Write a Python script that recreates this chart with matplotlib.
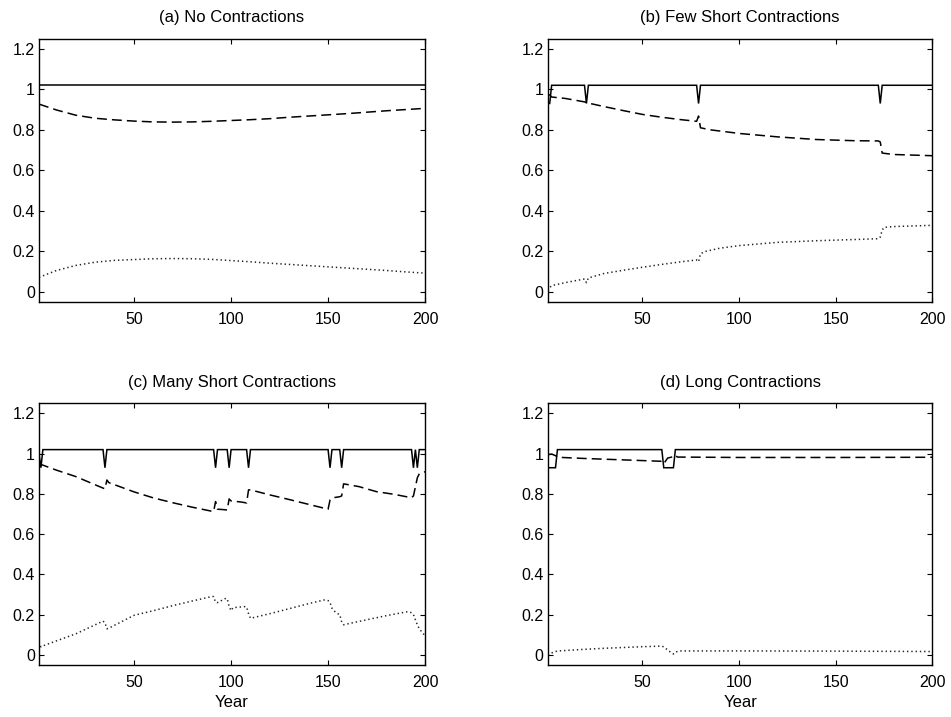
import matplotlib
matplotlib.use("Agg")
import matplotlib.pyplot as plt

plt.rcParams['font.family'] = ['Liberation Sans', 'DejaVu Sans']

titles = ["(a) No Contractions", "(b) Few Short Contractions",
          "(c) Many Short Contractions", "(d) Long Contractions"]
x_ticks = [50, 100, 150, 200]
y_ticks = [0, 0.2, 0.4, 0.6, 0.8, 1, 1.2]
y_tick_labels = ["0", "0.2", "0.4", "0.6", "0.8", "1", "1.2"]

# (a) no contractions
solid_a_x = [1, 200]
solid_a_y = [1.02, 1.02]
curve_a_x = [1, 10, 20, 30, 40, 50, 60, 70, 80, 90, 100, 110, 120, 130, 140, 150, 160, 170, 180, 190, 200]
dash_a_y = [0.927, 0.898, 0.872, 0.857, 0.849, 0.843, 0.839, 0.838, 0.839, 0.842, 0.846,
            0.850, 0.855, 0.862, 0.868, 0.874, 0.880, 0.887, 0.894, 0.900, 0.906]
dot_a_y = [0.071, 0.105, 0.130, 0.146, 0.155, 0.159, 0.163, 0.164, 0.163, 0.160, 0.154,
           0.148, 0.141, 0.135, 0.129, 0.123, 0.117, 0.111, 0.105, 0.098, 0.092]

# (b) few short contractions
solid_b_x = [1, 2, 3, 20, 21, 22, 78, 79, 80, 172, 173, 174, 200]
solid_b_y = [0.93, 0.93, 1.02, 1.02, 0.93, 1.02, 1.02, 0.93, 1.02, 1.02, 0.93, 1.02, 1.02]
dash_b_x = [1, 2, 3, 10, 20, 21, 22, 30, 40, 50, 60, 70, 78, 79, 80, 85, 100, 120, 140, 160,
            172, 173, 174, 180, 200]
dash_b_y = [0.975, 0.972, 0.962, 0.955, 0.938, 0.935, 0.932, 0.915, 0.895, 0.876, 0.862, 0.850,
            0.842, 0.868, 0.810, 0.800, 0.782, 0.765, 0.752, 0.746, 0.745, 0.740, 0.685, 0.678, 0.672]
dot_b_x = [1, 2, 3, 10, 20, 21, 22, 30, 40, 50, 60, 70, 78, 79, 80, 82, 90, 100, 120, 140, 160,
           172, 173, 174, 175, 180, 200]
dot_b_y = [0.005, 0.020, 0.030, 0.045, 0.063, 0.045, 0.068, 0.090, 0.106, 0.121, 0.135, 0.148,
           0.157, 0.148, 0.187, 0.198, 0.215, 0.228, 0.244, 0.252, 0.258, 0.262, 0.270, 0.305,
           0.318, 0.322, 0.328]

# (c) many short contractions
solid_c_x = [1, 2, 3, 34, 35, 36, 91, 92, 93, 98, 99, 100, 108, 109, 110, 150, 151, 152,
             156, 157, 158, 193, 194, 195, 196, 197, 200]
solid_c_y = [1.0, 0.93, 1.02, 1.02, 0.93, 1.02, 1.02, 0.93, 1.02, 1.02, 0.93, 1.02, 1.02, 0.93,
             1.02, 1.02, 0.93, 1.02, 1.02, 0.93, 1.02, 1.02, 0.93, 1.02, 0.93, 1.02, 1.02]
dash_c_x = [1, 10, 20, 30, 35, 36, 37, 50, 60, 70, 80, 90, 91, 92, 93, 96, 98, 99, 100, 105,
            108, 109, 110, 120, 130, 140, 150, 151, 152, 156, 157, 158, 166, 175, 184, 193,
            194, 196, 197, 200]
dash_c_y = [0.950, 0.918, 0.886, 0.845, 0.825, 0.869, 0.856, 0.810, 0.780, 0.756, 0.734, 0.714,
            0.712, 0.762, 0.724, 0.722, 0.720, 0.775, 0.765, 0.760, 0.755, 0.820, 0.820, 0.795,
            0.772, 0.748, 0.724, 0.770, 0.780, 0.786, 0.790, 0.850, 0.836, 0.811, 0.798, 0.781,
            0.790, 0.880, 0.900, 0.910]
dot_c_x = [1, 2, 3, 10, 20, 30, 34, 35, 36, 37, 50, 60, 70, 80, 90, 91, 92, 93, 97, 98, 99, 100,
           101, 107, 108, 109, 110, 120, 130, 140, 148, 150, 151, 152, 154, 156, 157, 158, 170,
           180, 191, 193, 194, 196, 197, 200]
dot_c_y = [0.065, 0.040, 0.045, 0.070, 0.105, 0.150, 0.168, 0.160, 0.130, 0.133, 0.197, 0.220,
           0.245, 0.268, 0.290, 0.290, 0.262, 0.260, 0.280, 0.280, 0.240, 0.220, 0.235, 0.240,
           0.238, 0.205, 0.182, 0.205, 0.230, 0.255, 0.273, 0.270, 0.260, 0.232, 0.210, 0.200,
           0.165, 0.150, 0.175, 0.195, 0.215, 0.210, 0.200, 0.150, 0.130, 0.095]

# (d) long contractions
solid_d_x = [1, 5, 6, 60, 61, 66, 67, 200]
solid_d_y = [0.93, 0.93, 1.02, 1.02, 0.93, 0.93, 1.02, 1.02]
dash_d_x = [1, 3, 5, 6, 20, 40, 60, 61, 63, 66, 67, 68, 100, 150, 200]
dash_d_y = [0.995, 0.998, 0.990, 0.982, 0.976, 0.969, 0.962, 0.950, 0.978, 0.985, 0.993, 0.983,
            0.981, 0.981, 0.982]
dot_d_x = [1, 3, 6, 10, 20, 30, 40, 50, 60, 61, 63, 65, 66, 67, 70, 100, 150, 200]
dot_d_y = [0.0, 0.010, 0.020, 0.022, 0.028, 0.033, 0.037, 0.041, 0.044, 0.040, 0.025, 0.010,
           0.005, 0.015, 0.020, 0.020, 0.019, 0.017]

panels = [
    (solid_a_x, solid_a_y, curve_a_x, dash_a_y, curve_a_x, dot_a_y),
    (solid_b_x, solid_b_y, dash_b_x, dash_b_y, dot_b_x, dot_b_y),
    (solid_c_x, solid_c_y, dash_c_x, dash_c_y, dot_c_x, dot_c_y),
    (solid_d_x, solid_d_y, dash_d_x, dash_d_y, dot_d_x, dot_d_y),
]

positions = [
    [0.041, 0.579, 0.406, 0.367],
    [0.576, 0.579, 0.4045, 0.367],
    [0.041, 0.0725, 0.406, 0.365],
    [0.576, 0.0725, 0.4045, 0.365],
]

fig = plt.figure(figsize=(9.51, 7.17), dpi=100)

for i, (sx, sy, dx, dy, ox, oy) in enumerate(panels):
    ax = fig.add_axes(positions[i])
    ax.plot(sx, sy, color="black", lw=1.1, solid_joinstyle="miter")
    ax.plot(dx, dy, color="black", lw=1.1, dashes=(6.5, 3.3))
    ax.plot(ox, oy, color="#222222", lw=1.1, dashes=(0.9, 1.9))
    ax.set_xlim(1, 200)
    ax.set_ylim(-0.05, 1.25)
    ax.set_xticks(x_ticks)
    ax.set_yticks(y_ticks)
    ax.set_yticklabels(y_tick_labels)
    ax.tick_params(direction="in", top=True, right=True, length=3.5, width=0.8,
                   labelsize=11.5, pad=3)
    ax.tick_params(axis="x", pad=7)
    for sp in ax.spines.values():
        sp.set_linewidth(1.0)
    ax.set_title(titles[i], fontsize=12, pad=12)
    if i >= 2:
        ax.set_xlabel("Year", fontsize=12, labelpad=4)

fig.savefig("out.png", dpi=100)
plt.close(fig)
